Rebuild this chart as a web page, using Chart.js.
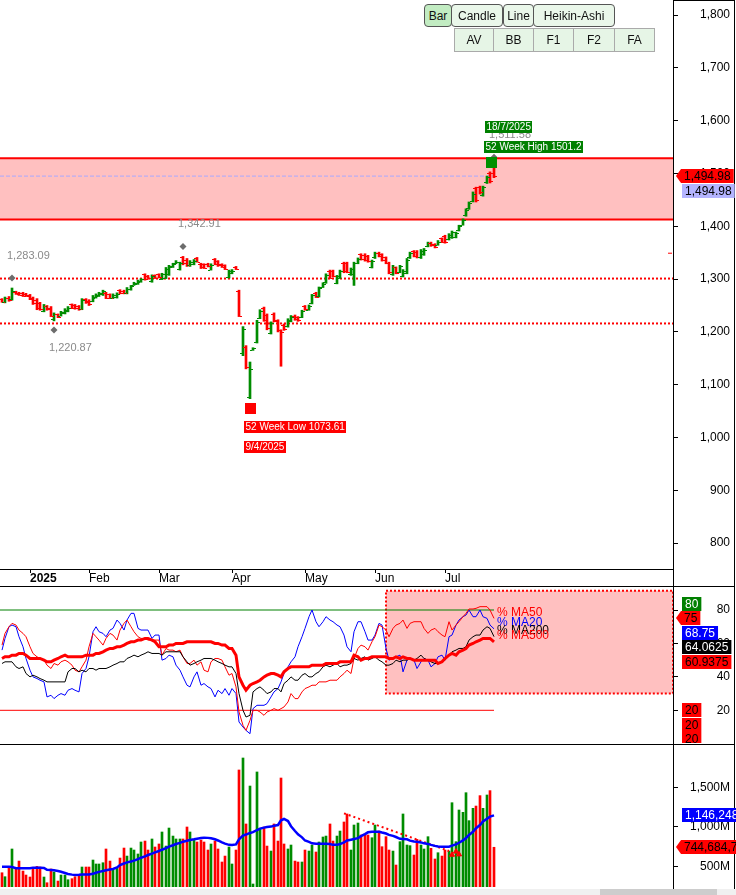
<!DOCTYPE html>
<html>
<head>
<meta charset="utf-8">
<script src="https://cdn.jsdelivr.net/npm/chart.js@4.4.1/dist/chart.umd.min.js"></script>
<style>
  html, body { margin: 0; padding: 0; background: #fff; }
  #wrap { position: relative; width: 736px; height: 895px; overflow: hidden; background: #fff; }
  canvas { position: absolute; left: 0; }
  .hline { position: absolute; left: 0; width: 735px; height: 1px; background: #000; }
  .vline { position: absolute; top: 0; width: 1px; height: 889px; background: #000; }
  .btn { position: absolute; box-sizing: border-box; font: 12px "Liberation Sans", Arial, sans-serif; color: #111;
         display: flex; align-items: center; justify-content: center; }
  .btn.r1 { top: 4px; height: 23px; background: #eaf7ea; border: 1px solid #555; border-radius: 4px; }
  .btn.sel { background: #c2ecc2; }
  .btn.r2 { top: 28px; height: 24px; background: #e6f5e6; border: 1px solid #aaa; }
  #scroll { position: absolute; left: 0; top: 889px; width: 736px; height: 6px; background: #f0f0f0; }
  #thumb { position: absolute; left: 600px; top: 889px; width: 117px; height: 6px; background: #cdcdcd; }
</style>
</head>
<body>
<div id="wrap">
  <div class="vline" style="left:734px"></div>
  <div class="vline" style="left:673px"></div>
  <div class="hline" style="top:0;left:673px;width:62px"></div>
  <div class="hline" style="top:586px"></div>
  <div class="hline" style="top:744px"></div>
  <canvas id="priceChart" width="736" height="587" style="top:0"></canvas>
  <canvas id="breadthChart" width="736" height="156" style="top:587px"></canvas>
  <canvas id="volumeChart" width="736" height="142" style="top:745px"></canvas>
  <div class="btn r1 sel" style="left:424px;width:28px">Bar</div>
  <div class="btn r1" style="left:451px;width:52px">Candle</div>
  <div class="btn r1" style="left:503px;width:31px">Line</div>
  <div class="btn r1" style="left:533px;width:82px">Heikin-Ashi</div>
  <div class="btn r2" style="left:454px;width:40px">AV</div>
  <div class="btn r2" style="left:493px;width:41px">BB</div>
  <div class="btn r2" style="left:533px;width:41px">F1</div>
  <div class="btn r2" style="left:573px;width:42px">F2</div>
  <div class="btn r2" style="left:614px;width:41px">FA</div>
  <div id="scroll"></div><div id="thumb"></div>
</div>
<script>
const FONT = '"Liberation Sans", Arial, sans-serif';
Chart.defaults.font.family = FONT;
Chart.defaults.color = '#000';

// ---- time axis ----
const monthLabels = ['2025', 'Feb', 'Mar', 'Apr', 'May', 'Jun', 'Jul'];
const monthIdx = [8, 25, 45, 66, 87, 107, 127];

// ---- price panel ----
const priceTicks = [800, 900, 1000, 1100, 1200, 1300, 1400, 1500, 1600, 1700, 1800];
const opens = [
  1262, 1257, 1265, 1262, 1276, 1274, 1274, 1272, 1270, 1264,
  1261, 1254, 1240, 1249, 1246, 1224, 1233, 1231, 1235, 1240,
  1252, 1251, 1249, 1244, 1262, 1259, 1258, 1265, 1268, 1271,
  1274, 1271, 1264, 1266, 1279, 1278, 1273, 1281, 1289, 1291,
  1295, 1309, 1306, 1296, 1307, 1309, 1301, 1303, 1309, 1323,
  1330, 1319, 1341, 1337, 1326, 1328, 1340, 1329, 1328, 1329,
  1318, 1338, 1334, 1328, 1326, 1304, 1311, 1323, 1278, 1160,
  1172, 1076, 1166, 1181, 1227, 1245, 1232, 1198, 1234, 1222,
  1203, 1214, 1211, 1221, 1231, 1228, 1228, 1249, 1242, 1255,
  1274, 1268, 1285, 1294, 1316, 1315, 1293, 1303, 1330, 1330,
  1309, 1310, 1331, 1347, 1346, 1343, 1323, 1341, 1350, 1347,
  1341, 1330, 1309, 1322, 1314, 1306, 1312, 1341, 1353, 1352,
  1341, 1347, 1362, 1369, 1366, 1365, 1377, 1381, 1375, 1379,
  1380, 1392, 1403, 1421, 1434, 1448, 1472, 1474, 1459, 1483,
  1501, 1501.2
];
const highs = [
  1263, 1266, 1267, 1283.09, 1277, 1275, 1275, 1273, 1271, 1266,
  1263, 1256, 1252, 1250, 1248, 1236, 1234, 1239, 1244, 1248,
  1253, 1252, 1250, 1263, 1263, 1261, 1269, 1272, 1275, 1279,
  1275, 1272, 1272, 1274, 1280, 1279, 1284, 1288, 1294, 1298,
  1301, 1310, 1307, 1308, 1308, 1310, 1311, 1322, 1326, 1330,
  1335, 1332, 1342.91, 1339, 1335, 1337, 1341, 1330, 1329, 1330,
  1329, 1339, 1335, 1329, 1327, 1317, 1318, 1324, 1279, 1210,
  1174, 1143, 1170, 1222, 1242, 1247, 1234, 1219, 1236, 1223,
  1204, 1215, 1225, 1231, 1232, 1229, 1241, 1250, 1251, 1271,
  1275, 1285, 1293, 1310, 1317, 1317, 1307, 1317, 1332, 1332,
  1321, 1332, 1340, 1348, 1348, 1345, 1336, 1351, 1351, 1348,
  1342, 1332, 1326, 1323, 1326, 1318, 1339, 1351, 1354, 1354,
  1356, 1358, 1370, 1370, 1367, 1373, 1378, 1383, 1386, 1391,
  1389, 1402, 1414, 1433, 1446, 1465, 1474, 1476, 1476, 1495,
  1503, 1511.58
];
const lows = [
  1256, 1255, 1258, 1260, 1271, 1269, 1267, 1267, 1261, 1252,
  1242, 1241, 1238, 1241, 1229, 1220.87, 1227, 1230, 1234, 1238,
  1244, 1243, 1241, 1242, 1254, 1250, 1257, 1264, 1267, 1269,
  1263, 1263, 1263, 1264, 1272, 1272, 1272, 1279, 1288, 1290,
  1294, 1298, 1301, 1294, 1301, 1302, 1299, 1301, 1307, 1322,
  1329, 1317, 1327, 1324, 1324, 1327, 1332, 1320, 1320, 1323,
  1317, 1327, 1324, 1322, 1318, 1302, 1310, 1318, 1229, 1155,
  1130, 1073.61, 1165, 1179, 1225, 1220, 1204, 1196, 1219, 1200,
  1135, 1203, 1209, 1219, 1222, 1220, 1227, 1241, 1241, 1253,
  1265, 1266, 1284, 1292, 1301, 1304, 1291, 1301, 1312, 1312,
  1307, 1288, 1329, 1336, 1334, 1332, 1321, 1339, 1342, 1334,
  1329, 1310, 1307, 1310, 1312, 1304, 1310, 1339, 1342, 1340,
  1339, 1345, 1361, 1362, 1359, 1364, 1369, 1368, 1374, 1377,
  1378, 1391, 1402, 1419, 1432, 1446, 1446, 1461, 1457, 1481,
  1482, 1492
];
const closes = [
  1257, 1264, 1260, 1278, 1272, 1270, 1268, 1268, 1263, 1254,
  1245, 1243, 1249, 1243, 1231, 1233, 1229, 1237, 1242, 1246,
  1246, 1245, 1243, 1260, 1256, 1252, 1267, 1270, 1273, 1277,
  1265, 1265, 1270, 1272, 1274, 1273, 1282, 1286, 1293, 1296,
  1300, 1300, 1302, 1305, 1303, 1304, 1309, 1319, 1324, 1328,
  1333, 1330, 1330, 1326, 1333, 1335, 1333, 1322, 1321, 1324,
  1327, 1329, 1326, 1323, 1319, 1315, 1316, 1319, 1231, 1205,
  1134, 1130, 1169, 1218, 1240, 1223, 1207, 1216, 1221, 1203,
  1199, 1205, 1223, 1229, 1224, 1222, 1239, 1243, 1249, 1269,
  1267, 1283, 1291, 1307, 1303, 1306, 1305, 1315, 1315, 1314,
  1319, 1330, 1338, 1338, 1336, 1334, 1334, 1349, 1344, 1336,
  1331, 1313, 1323, 1312, 1324, 1316, 1337, 1349, 1344, 1342,
  1354, 1356, 1369, 1364, 1361, 1371, 1371, 1371, 1384, 1389,
  1387, 1400, 1412, 1431, 1444, 1462, 1450, 1464, 1474, 1493,
  1486, 1494.98
];
const zoneTop = 1529;
const zoneBottom = 1413;
const supportLevels = [1301, 1216];
const lastPrice = 1494.98;
const pivotIdx = [3, 15, 52, 141];
const pivotVals = [1283.09, 1220.87, 1342.91, 1511.58];
const pivotIsHigh = [true, false, true, true];
const yearHighIdx = 141;
const yearHighValue = '1501.2';
const yearHighDate = '18/7/2025';
const yearLowIdx = 71;
const yearLowValue = '1073.61';
const yearLowDate = '9/4/2025';
const strayIdx = 191.5;
const strayVal = 1349;

// ---- breadth panel (% above moving averages) ----
const breadthTicks = [20, 40, 60, 80];
const ma20 = [
  56, 63, 70, 71, 70, 64, 58, 51, 44, 40,
  39, 38, 37, 28, 29, 27, 29, 30, 29, 32,
  33, 32, 31, 42, 45, 52, 67, 70, 67, 66,
  64, 68, 69, 74, 72, 68, 74, 78, 78, 69,
  68, 68, 68, 63, 65, 65, 50, 51, 53, 52,
  47, 44, 40, 35, 34, 40, 43, 35, 36, 34,
  33, 28, 32, 30, 33, 29, 33, 30, 13, 10,
  8, 6, 21, 23, 23, 23, 24, 28, 31, 33,
  37, 42, 46, 49, 52, 58, 64, 69, 76, 80,
  73, 70, 73, 76, 74, 73, 71, 70, 65, 58,
  55, 67, 73, 73, 67, 62, 62, 65, 72, 71,
  57, 50, 51, 52, 53, 43, 50, 51, 50, 45,
  49, 51, 50, 46, 48, 52, 53, 50, 64, 65,
  71, 74, 76, 77, 80, 76, 76, 80, 76, 75,
  71, 68.75
];
const ma50 = [
  59, 66, 70, 72, 71, 68, 66, 64, 58, 54,
  52, 51, 50, 47, 45, 48, 47, 49, 50, 49,
  47, 44, 43, 46, 50, 58, 66, 64, 62, 59,
  63, 66, 65, 62, 68, 72, 74, 70, 67, 64,
  63, 63, 62, 62, 62, 62, 53, 57, 56, 56,
  55, 56, 52, 48, 48, 50, 47, 49, 44, 43,
  49, 51, 51, 50, 46, 41, 42, 34, 19, 11,
  8, 14, 20, 20, 19, 17, 19, 20, 21, 20,
  21, 22, 25, 30, 27, 27, 31, 33, 34, 35,
  35, 37, 37, 37, 38, 38, 38, 40, 42, 44,
  42, 51, 57, 59, 58, 56, 61, 64, 71, 70,
  68, 64, 69, 71, 72, 74, 69, 72, 73, 73,
  73, 69, 66, 68, 69, 67, 65, 64, 73, 68,
  71, 73, 76, 78, 80.6, 80.6, 81, 82, 82, 82,
  80, 75
];
const ma200 = [
  48, 49, 49, 49, 46, 45, 46, 42, 40, 41,
  40, 39, 38, 37, 37, 37, 37, 37, 37, 43,
  45, 45, 43, 44, 43, 45, 45, 44, 45, 45,
  45, 46, 47, 48, 49, 49, 51, 52, 53, 52,
  53, 54, 55, 54, 54, 54, 53, 55, 55, 55,
  55, 55, 52, 49, 47, 48, 49, 50, 51, 51,
  51, 50, 49, 48, 47, 46, 46, 42, 30, 20,
  16, 17, 31, 33, 34, 32, 30, 31, 33, 33,
  31, 36, 38, 40, 38, 38, 41, 42, 40, 40,
  42, 43, 46, 47, 46, 47, 48, 46, 47, 47,
  48, 51, 50, 51, 52, 50, 51, 52, 50, 49,
  47, 47, 48, 50, 49, 50, 50, 51, 50, 51,
  53, 51, 50, 49, 48, 48, 49, 50, 53, 55,
  56, 57, 57, 58, 62, 64, 65, 65, 68, 70,
  69, 64.0625
];
const ma500 = [
  51, 52, 52, 53, 53, 54, 54, 53, 51, 51,
  51, 51, 50, 49, 49, 50, 51, 52, 53, 52,
  52, 52, 52, 52, 53, 53, 53, 54, 54, 55,
  56, 57, 57, 58, 58, 59, 60, 61, 61, 62,
  62, 63, 63, 62, 61, 58, 58, 58, 59, 59,
  60, 60, 60, 61, 61, 61, 61, 61, 61, 61,
  61, 60, 60, 59, 59, 57, 57, 53, 40, 35,
  32, 35, 36, 37, 38, 40, 41, 42, 42, 41,
  40, 43, 45, 46, 46, 46, 46, 46, 46, 47,
  47, 47, 47, 48, 48, 48, 48, 49, 49, 49,
  49, 53, 52, 50, 51, 51, 52, 52, 52, 52,
  52, 51, 51, 52, 51, 52, 51, 51, 50, 50,
  50, 50, 50, 50, 50, 48, 49, 51, 53, 54,
  53, 55, 56, 57, 59, 60, 61, 62, 63, 63,
  63, 60.9375
];
const breadthUpper = 80;
const breadthLower = 20;
const shadeStart = 110;
const shadeTop = 91.5;
const shadeBottom = 30;
const breadthTagVals = [80, 75, 68.75, 64.0625, 60.9375];
const lowerTagVals = [20, 20, 20];

// ---- volume panel (millions) ----
const volTicks = [500, 1000, 1500];
const volumes = [
  424, 374, 500, 723, 479, 571, 445, 395, 370, 492,
  504, 496, 370, 298, 471, 433, 319, 395, 395, 336,
  349, 374, 395, 496, 496, 496, 584, 534, 534, 550,
  723, 571, 458, 479, 609, 735, 634, 735, 710, 660,
  811, 823, 710, 849, 748, 786, 937, 760, 987, 886,
  849, 849, 849, 1000, 937, 836, 811, 836, 811, 710,
  786, 823, 723, 559, 634, 748, 534, 710, 1718, 1869,
  1038, 1516, 282, 1693, 975, 1000, 760, 697, 1038, 823,
  1617, 786, 723, 773, 571, 559, 559, 710, 697, 773,
  685, 811, 874, 886, 1038, 823, 886, 949, 1063, 1164,
  710, 1025, 1050, 899, 912, 899, 865, 1025, 949, 752,
  878, 710, 697, 521, 815, 1164, 773, 765, 647, 844,
  773, 723, 878, 731, 597, 676, 634, 710, 697, 1306,
  815, 1214, 1185, 1432, 1080, 1235, 1264, 1395, 1235, 1403,
  1458, 744.6847
];
const volAvg = [
  500, 500, 500, 495, 480, 479, 479, 479, 480, 488,
  488, 488, 485, 460, 458, 455, 445, 437, 420, 408,
  400, 395, 398, 403, 403, 403, 410, 424, 435, 445,
  455, 465, 471, 490, 521, 540, 555, 565, 576, 595,
  613, 630, 647, 665, 681, 698, 714, 733, 752, 770,
  786, 800, 815, 826, 836, 845, 853, 860, 865, 863,
  857, 845, 830, 805, 790, 775, 773, 780, 845, 891,
  905, 925, 935, 962, 980, 992, 1000, 1005, 1015, 1025,
  1085, 1101, 1075, 1010, 950, 907, 870, 830, 812, 795,
  790, 790, 790, 790, 785, 775, 775, 785, 805, 830,
  840, 848, 860, 885, 910, 933, 941, 941, 941, 930,
  918, 901, 888, 874, 851, 849, 845, 828, 818, 813,
  806, 794, 787, 775, 762, 754, 752, 752, 752, 765,
  781, 802, 832, 860, 900, 940, 985, 1025, 1070, 1105,
  1130, 1146.248
];
const volTrendIdx = [98, 128];
const volTrendVals = [1172, 697];
const volSignalIdx = [129, 130, 131];
const volSignalVals = [650, 690, 655];

// ---- shared helpers ----
const X_MIN = -0.5;
const X_MAX = 192.3;
const lastIdx = closes.length - 1;
const UP = '#008c00';
const DOWN = '#ff0000';
const barColors = closes.map((c, i) => c >= opens[i] ? UP : DOWN);
const flat = (v, to) => [{ x: X_MIN, y: v }, { x: to, y: v }];
const fmt2 = v => v.toLocaleString('en-US', { minimumFractionDigits: 2, maximumFractionDigits: 2 });

function rightAxis(min, max, ticks, pad, fmt) {
  return {
    type: 'linear', position: 'right', min: min, max: max, beginAtZero: false,
    grid: { drawOnChartArea: false, tickLength: 5, color: '#000' },
    border: { display: true, color: '#000' },
    afterBuildTicks: s => { s.ticks = ticks.map(v => ({ value: v })); },
    ticks: { crossAlign: 'far', padding: pad, color: '#000', font: { size: 12 }, callback: fmt },
    afterFit: s => { s.width = 57; s.paddingTop = 0; s.paddingBottom = 0; }
  };
}
const hiddenX = { type: 'linear', min: X_MIN, max: X_MAX, offset: false, display: false, alignToPixels: true };
const baseOptions = {
  responsive: false, animation: false, devicePixelRatio: 1, events: [],
  layout: { autoPadding: false, padding: { left: 0, right: 6, top: 0, bottom: 0 } }
};
const basePlugins = { legend: { display: false }, tooltip: { enabled: false }, filler: { drawTime: 'beforeDatasetsDraw' } };

// tags on the right axis, stacked around an anchor tag
function drawTags(chart, tags) {
  const { ctx } = chart;
  const scale = chart.scales.y;
  const H = 14.5;
  const items = tags.map((t, k) => Object.assign({ k: k, py: scale.getPixelForValue(t.value) }, t))
    .sort((a, b) => (a.py - b.py) || (a.k - b.k));
  const groups = [];
  items.forEach(t => {
    const g = groups[groups.length - 1];
    if (g && t.py - g[g.length - 1].py < H) g.push(t); else groups.push([t]);
  });
  groups.forEach(g => {
    let a = g.findIndex(t => t.arrow);
    if (a < 0) a = 0;
    g.forEach((t, k) => { t.cy = g[a].py + (k - a) * H; });
  });
  ctx.save();
  ctx.font = '12px ' + FONT;
  ctx.textBaseline = 'middle';
  const left = scale.left;
  items.forEach(t => {
    const top = Math.round(t.cy - 7);
    const bx = left + (t.arrow ? 8 : 9);
    const w = ctx.measureText(t.text).width + 6;
    ctx.fillStyle = t.bg;
    ctx.fillRect(bx, top, w, 14);
    if (t.arrow) {
      ctx.beginPath();
      ctx.moveTo(left + 3, top + 7);
      ctx.lineTo(bx, top);
      ctx.lineTo(bx, top + 14);
      ctx.closePath();
      ctx.fill();
    }
    ctx.fillStyle = t.fg;
    ctx.fillText(t.text, bx + 3, top + 7.5);
  });
  ctx.restore();
}

function labelBox(ctx, text, left, top, bg) {
  ctx.font = '10px ' + FONT;
  const w = ctx.measureText(text).width + 3;
  ctx.fillStyle = bg;
  ctx.fillRect(Math.round(left), Math.round(top), Math.round(w), 12);
  ctx.fillStyle = '#fff';
  ctx.textBaseline = 'middle';
  ctx.fillText(text, Math.round(left) + 1.5, Math.round(top) + 6.5);
}

// ---- price chart ----
const ohlcPlugin = {
  id: 'ohlcTicks',
  afterDatasetsDraw(chart) {
    const { ctx, scales: { x, y } } = chart;
    ctx.save();
    opens.forEach((o, i) => {
      const px = Math.round(x.getPixelForValue(i));
      ctx.fillStyle = barColors[i];
      ctx.fillRect(px - 3, Math.round(y.getPixelForValue(o)), 2, 1);
      ctx.fillRect(px + 1, Math.round(y.getPixelForValue(closes[i])), 2, 1);
    });
    ctx.restore();
  }
};

const markerPlugin = {
  id: 'markers',
  afterDatasetsDraw(chart) {
    const { ctx, scales: { x, y } } = chart;
    ctx.save();
    ctx.textBaseline = 'middle';
    pivotIdx.forEach((idx, k) => {
      const up = pivotIsHigh[k];
      const px = x.getPixelForValue(idx);
      const py = y.getPixelForValue(pivotVals[k]) + (up ? -10 : 9);
      ctx.font = '11px ' + FONT;
      ctx.fillStyle = '#8a8a8a';
      ctx.fillText(fmt2(pivotVals[k]), px - 5, py + (up ? -22 : 18));
      ctx.fillStyle = '#6c6c6c';
      ctx.beginPath();
      ctx.moveTo(px, py - 3.5);
      ctx.lineTo(px + 3.5, py);
      ctx.lineTo(px, py + 3.5);
      ctx.lineTo(px - 3.5, py);
      ctx.closePath();
      ctx.fill();
    });

    // 52 week high
    const hx = x.getPixelForValue(yearHighIdx);
    const hy = y.getPixelForValue(highs[yearHighIdx]);
    ctx.fillStyle = '#009000';
    ctx.fillRect(Math.round(hx) - 8, Math.round(hy) - 10, 11, 11);
    labelBox(ctx, '52 Week High ' + yearHighValue, hx - 10, hy - 26, '#008000');
    labelBox(ctx, yearHighDate, hx - 9, hy - 46, '#008000');

    // 52 week low
    const lx = x.getPixelForValue(yearLowIdx);
    const ly = y.getPixelForValue(lows[yearLowIdx]);
    ctx.fillStyle = '#ff0000';
    ctx.fillRect(Math.round(lx) - 5, Math.round(ly) + 4, 11, 11);
    labelBox(ctx, '52 Week Low ' + yearLowValue, lx - 6.5, ly + 22.5, '#ff0000');
    labelBox(ctx, yearLowDate, lx - 6.5, ly + 42.5, '#ff0000');
    ctx.restore();
  }
};

const priceTagPlugin = {
  id: 'priceTags',
  afterDraw(chart) {
    drawTags(chart, [
      { value: lastPrice, text: fmt2(lastPrice), bg: '#ff0000', fg: '#000', arrow: true },
      { value: lastPrice, text: fmt2(lastPrice), bg: '#b4b4ff', fg: '#000' }
    ]);
  }
};

new Chart(document.getElementById('priceChart'), {
  type: 'bar',
  data: {
    datasets: [
      { type: 'line', data: flat(zoneTop, X_MAX), borderColor: '#ff0000', borderWidth: 2,
        backgroundColor: '#ffc0c0', fill: '+1', pointRadius: 0, order: 10 },
      { type: 'line', data: flat(zoneBottom, X_MAX), borderColor: '#ff0000', borderWidth: 2,
        fill: false, pointRadius: 0, order: 9 },
      ...supportLevels.map(v => ({
        type: 'line', data: flat(v, X_MAX), borderColor: '#ff0000', borderWidth: 2,
        borderDash: [2, 2], fill: false, pointRadius: 0, order: 8
      })),
      { type: 'line', data: flat(lastPrice, lastIdx), borderColor: '#a8a8ff', borderWidth: 1,
        borderDash: [4, 2], fill: false, pointRadius: 0, order: 7 },
      { type: 'bar', data: highs.map((h, i) => ({ x: i, y: [lows[i], h] })),
        backgroundColor: barColors, borderWidth: 0, barThickness: 2, order: 1 },
      { type: 'line', data: [{ x: strayIdx, y: strayVal }], showLine: false, pointStyle: 'line',
        pointRadius: 2, borderColor: '#ff0000', borderWidth: 1, order: 0 }
    ]
  },
  options: Object.assign({}, baseOptions, {
    plugins: basePlugins,
    scales: {
      x: {
        type: 'linear', min: X_MIN, max: X_MAX, offset: false, alignToPixels: true,
        grid: { drawOnChartArea: false, drawTicks: true, tickLength: 4, color: '#000', offset: false },
        border: { display: true, color: '#000' },
        afterBuildTicks: s => { s.ticks = monthIdx.map(v => ({ value: v })); },
        ticks: {
          autoSkip: false, maxRotation: 0, align: 'start', padding: -2, color: '#000',
          font: c => ({ size: 12, weight: c.index === 0 ? 'bold' : 'normal' }),
          callback: (v, i) => monthLabels[i]
        },
        afterFit: s => { s.height = 18; s.paddingLeft = 0; s.paddingRight = 0; }
      },
      y: rightAxis(751.1, 1828.4, priceTicks, 22, v => v.toLocaleString('en-US'))
    }
  }),
  plugins: [ohlcPlugin, markerPlugin, priceTagPlugin]
});

// ---- breadth chart ----
const maSeries = [
  { name: '% MA50', data: ma50, color: '#ff0000', width: 1, order: 3 },
  { name: '% MA20', data: ma20, color: '#0000ff', width: 1, order: 4 },
  { name: '% MA200', data: ma200, color: '#000000', width: 1, order: 2 },
  { name: '% MA500', data: ma500, color: '#ff0000', width: 3, order: 1 }
];

const breadthPlugin = {
  id: 'breadthLabels',
  afterDatasetsDraw(chart) {
    const { ctx, scales: { x, y } } = chart;
    ctx.save();
    ctx.font = '12px ' + FONT;
    ctx.textBaseline = 'middle';
    maSeries.forEach(s => {
      ctx.fillStyle = s.color;
      ctx.fillText(s.name, x.getPixelForValue(lastIdx) + 3, y.getPixelForValue(s.data[lastIdx]) - 6);
    });
    ctx.restore();
  },
  afterDraw(chart) {
    const styles = [['#008000', '#fff', false], ['#ff0000', '#000', true], ['#0000ff', '#fff', false],
                    ['#000000', '#fff', false], ['#ff0000', '#000', false]];
    drawTags(chart, breadthTagVals.map((v, k) => ({ value: v, text: String(v), bg: styles[k][0], fg: styles[k][1], arrow: styles[k][2] })));
    drawTags(chart, lowerTagVals.map(v => ({ value: v, text: String(v), bg: '#ff0000', fg: '#000' })));
  }
};

new Chart(document.getElementById('breadthChart'), {
  type: 'line',
  data: {
    datasets: [
      { data: [{ x: shadeStart, y: shadeTop }, { x: X_MAX, y: shadeTop }, { x: X_MAX, y: shadeBottom },
               { x: shadeStart, y: shadeBottom }, { x: shadeStart, y: shadeTop }],
        fill: 'shape', backgroundColor: '#ffc0c0', borderColor: '#ff0000', borderWidth: 2,
        borderDash: [2, 2], pointRadius: 0, order: 10 },
      { data: flat(breadthUpper, lastIdx), borderColor: '#008000', borderWidth: 1, pointRadius: 0, fill: false, order: 6 },
      { data: flat(breadthLower, lastIdx), borderColor: '#ff0000', borderWidth: 1, pointRadius: 0, fill: false, order: 6 },
      ...maSeries.map(s => ({
        data: s.data.map((v, i) => ({ x: i, y: v })), borderColor: s.color, borderWidth: s.width,
        pointRadius: 0, fill: false, tension: 0, order: s.order
      }))
    ]
  },
  options: Object.assign({}, baseOptions, {
    plugins: basePlugins,
    scales: {
      x: hiddenX,
      y: rightAxis(0.44, 93.76, breadthTicks, 38, v => String(v))
    }
  }),
  plugins: [breadthPlugin]
});

// ---- volume chart ----
const volumePlugin = {
  id: 'volumeTags',
  afterDraw(chart) {
    drawTags(chart, [
      { value: volAvg[lastIdx], text: Math.round(volAvg[lastIdx] * 1e6).toLocaleString('en-US'), bg: '#0000ff', fg: '#fff' },
      { value: volumes[lastIdx], text: Math.round(volumes[lastIdx] * 1e6).toLocaleString('en-US'), bg: '#ff0000', fg: '#000', arrow: true }
    ]);
  }
};

new Chart(document.getElementById('volumeChart'), {
  type: 'bar',
  data: {
    datasets: [
      { type: 'line', data: volTrendIdx.map((v, k) => ({ x: v, y: volTrendVals[k] })), borderColor: '#ff0000',
        borderWidth: 2, borderDash: [2, 3], pointRadius: 0, fill: false, order: 2 },
      { type: 'line', data: volSignalIdx.map((v, k) => ({ x: v, y: volSignalVals[k] })), showLine: false,
        pointStyle: 'triangle', pointRadius: 3, backgroundColor: '#ff0000', borderColor: '#ff0000', order: 0 },
      { type: 'line', data: volAvg.map((v, i) => ({ x: i, y: v })), borderColor: '#0000ff', borderWidth: 2.5,
        pointRadius: 0, fill: false, order: 1 },
      { type: 'bar', data: volumes.map((v, i) => ({ x: i, y: v })), backgroundColor: barColors,
        borderWidth: 0, barThickness: 2, order: 3 }
    ]
  },
  options: Object.assign({}, baseOptions, {
    plugins: basePlugins,
    scales: {
      x: hiddenX,
      y: rightAxis(244.3, 2032.7, volTicks, 12, v => v.toLocaleString('en-US') + 'M')
    }
  }),
  plugins: [volumePlugin]
});
</script>
</body>
</html>
